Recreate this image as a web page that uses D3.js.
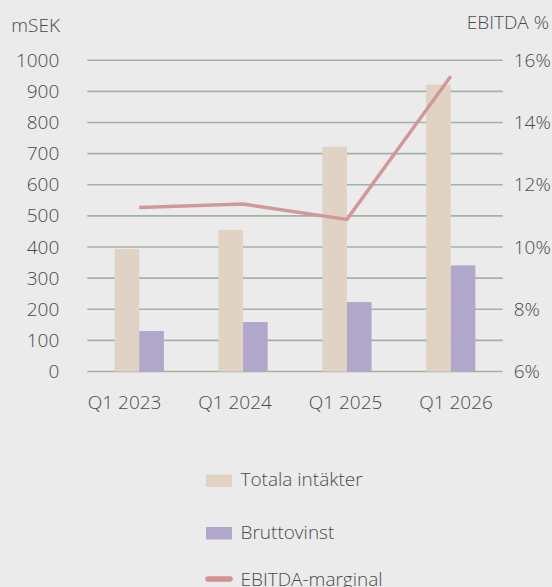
<!DOCTYPE html>
<html><head><meta charset="utf-8">
<script src="https://cdn.jsdelivr.net/npm/d3@7"></script>
<style>
html,body{margin:0;padding:0;background:#ebebeb;}
text{font-family:"Open Sans",sans-serif;font-weight:300;fill:#4a4a4a;}
</style></head>
<body><svg id="c" width="552" height="587"></svg>
<script>
const categories = ["Q1 2023","Q1 2024","Q1 2025","Q1 2026"];
const revenue = [393, 455, 722, 922];
const grossProfit = [130, 159, 223, 341];
const ebitdaMargin = [11.27, 11.38, 10.89, 15.49];
const leftTicks = [0,100,200,300,400,500,600,700,800,900,1000];
const rightTicks = [6,8,10,12,14,16];
const legendItems = [
  {name:"Totala intäkter", type:"bar", color:"#e0d2c5"},
  {name:"Bruttovinst", type:"bar", color:"#b1a7cb"},
  {name:"EBITDA-marginal", type:"line", color:"#d59090"}
];

const FS = "19px";
const svg = d3.select("#c");
const L = 87.3, R = 502.7, T = 60.3, B = 371.5;
const x = d3.scaleBand().domain(categories).range([L, R]).paddingInner(0.526).paddingOuter(0.263);
const xLabel = d3.scalePoint().domain(categories).range([124.6, 456]);
const y = d3.scaleLinear().domain([0, 1000]).range([B, T]);
const y2 = d3.scaleLinear().domain([6, 16]).range([B, T]);
const bw = x.bandwidth()/2;
const legendRowY = [481, 533.5, 580.5];

// gridlines
svg.append("g").selectAll("line").data(leftTicks).join("line")
  .attr("x1", L).attr("x2", R).attr("y1", d=>y(d)).attr("y2", d=>y(d))
  .attr("stroke", "#a2b2a5").attr("stroke-width", 1.6);

// left axis
const la = svg.append("g").attr("transform", `translate(${L},0)`)
  .call(d3.axisLeft(y).tickValues(leftTicks).tickSize(0).tickPadding(28).tickFormat(d3.format("d")));
la.select(".domain").remove();
la.selectAll("text").style("font-size",FS).style("font-family","Open Sans").attr("fill","#4a4a4a");

// right axis
const ra = svg.append("g").attr("transform", `translate(${R},0)`)
  .call(d3.axisRight(y2).tickValues(rightTicks).tickSize(0).tickPadding(11).tickFormat(d=>d+"%"));
ra.select(".domain").remove();
ra.selectAll("text").style("font-size",FS).style("font-family","Open Sans").attr("fill","#4a4a4a");

// x labels
svg.append("g").selectAll("text").data(categories).join("text")
  .attr("x", d=>xLabel(d)).attr("y", 409).attr("text-anchor","middle")
  .style("font-size",FS).text(d=>d);

// axis titles
svg.append("text").attr("x", 60).attr("y", 31.5).attr("text-anchor","end").style("font-size",FS).text("mSEK");
svg.append("text").attr("x", 549).attr("y", 29.3).attr("text-anchor","end").style("font-size",FS).text("EBITDA %");

// bars
svg.append("g").selectAll("rect").data(revenue).join("rect")
  .attr("x",(d,i)=>x(categories[i])).attr("width",bw)
  .attr("y",d=>y(d)).attr("height",d=>B-y(d)).attr("fill",legendItems[0].color);
svg.append("g").selectAll("rect").data(grossProfit).join("rect")
  .attr("x",(d,i)=>x(categories[i])+bw).attr("width",bw)
  .attr("y",d=>y(d)).attr("height",d=>B-y(d)).attr("fill",legendItems[1].color);

// line
const line = d3.line().x((d,i)=>x(categories[i])+bw).y(d=>y2(d));
svg.append("path").datum(ebitdaMargin).attr("d",line)
  .attr("fill","none").attr("stroke","#d09898").attr("stroke-width",3.4);

// legend
const lg = svg.append("g").selectAll("g").data(legendItems).join("g")
  .attr("transform",(d,i)=>`translate(206,${legendRowY[i]})`);
lg.filter(d=>d.type==="bar").append("rect").attr("x",0).attr("y",-6.5).attr("width",26).attr("height",12.5).attr("fill",d=>d.color);
lg.filter(d=>d.type==="line").append("line").attr("x1",2).attr("x2",24).attr("y1",-1.5).attr("y2",-1.5)
  .attr("stroke",d=>d.color).attr("stroke-width",5.5).attr("stroke-linecap","round");
lg.append("text").attr("x",34.5).attr("y",5).style("font-size",FS).text(d=>d.name);
</script></body></html>
